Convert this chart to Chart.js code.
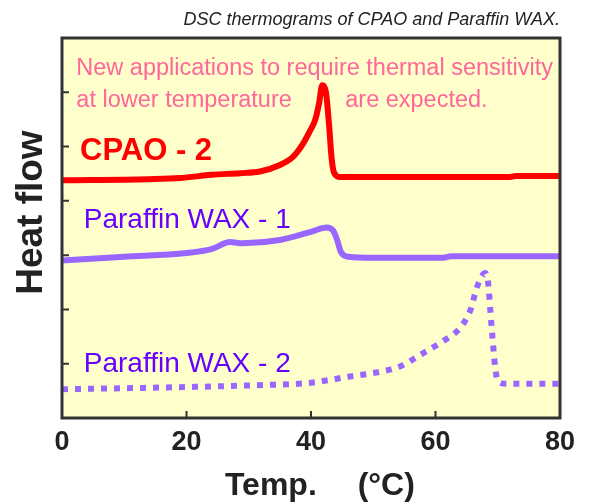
<!DOCTYPE html>
<html>
<head>
<meta charset="utf-8">
<script src="https://cdn.jsdelivr.net/npm/chart.js@4.4.1/dist/chart.umd.min.js"></script>
<style>
html, body { margin: 0; padding: 0; background: #fff; }
#wrap { width: 589px; height: 503px; }
</style>
</head>
<body>
<div id="wrap"><canvas id="dscChart"></canvas></div>
<script>
// temperature (deg C) / heat flow (arbitrary, 0..7)
const cpaoTemp = [0, 14, 19, 24, 28.6, 31.8, 35, 37.1, 38.7, 39.8, 40.7, 41.3, 41.8, 42.4, 42.9, 43.3, 43.7, 44.7, 60, 72, 73, 80];
const cpaoFlow = [4.38, 4.40, 4.42, 4.48, 4.51, 4.54, 4.66, 4.81, 5.05, 5.28, 5.50, 5.80, 6.13, 6.00, 5.40, 4.80, 4.52, 4.44, 4.44, 4.44, 4.46, 4.46];

const wax1Temp = [0, 10, 20, 24, 27, 29, 35, 40, 42.5, 43.5, 44.2, 44.8, 46, 50, 61, 62.5, 80];
const wax1Flow = [2.90, 2.97, 3.04, 3.11, 3.24, 3.22, 3.28, 3.43, 3.51, 3.46, 3.28, 3.06, 2.97, 2.95, 2.95, 2.98, 2.98];

const wax2Temp = [0, 20, 30, 40, 46, 51, 54.3, 57.5, 60.7, 63.9, 65, 65.8, 66.3, 66.9, 68, 68.5, 68.8, 69.1, 69.6, 70.1, 71.4, 80];
const wax2Flow = [0.53, 0.57, 0.60, 0.65, 0.76, 0.85, 0.95, 1.16, 1.38, 1.65, 1.84, 2.05, 2.27, 2.48, 2.67, 2.45, 1.99, 1.56, 0.92, 0.67, 0.63, 0.63];

const xTicks = [0, 20, 40, 60, 80];
const seriesNames = ['CPAO - 2', 'Paraffin WAX - 1', 'Paraffin WAX - 2'];
const noteLines = ['New applications to require thermal sensitivity', 'at lower temperature', 'are expected.'];

function toPoints(xs, ys) {
    return xs.map(function(x, i) { return {x: x, y: ys[i]}; });
}

// text placed in data units
const labelPos = [[2.9, 4.75], [3.5, 3.50], [3.5, 0.85]];
const notePos = [[2.3, 6.32], [2.3, 5.73], [45.5, 5.73]];

const framePlugin = {
    id: 'frame',
    beforeDraw(chart) {
        const {ctx, chartArea: a} = chart;
        ctx.save();
        ctx.fillStyle = '#ffffcc';
        ctx.fillRect(a.left, a.top, a.width, a.height);
        ctx.restore();
    },
    afterDatasetsDraw(chart) {
        const {ctx, chartArea: a, scales} = chart;
        const xs = scales.x, ys = scales.y;
        ctx.save();
        // inward ticks
        ctx.strokeStyle = '#333';
        ctx.lineWidth = 2;
        ctx.beginPath();
        xs.ticks.forEach(function(t) {
            const px = xs.getPixelForValue(t.value);
            ctx.moveTo(px, a.bottom);
            ctx.lineTo(px, a.bottom - 7);
        });
        ys.ticks.forEach(function(t) {
            const py = ys.getPixelForValue(t.value);
            ctx.moveTo(a.left, py);
            ctx.lineTo(a.left + 7, py);
        });
        ctx.stroke();
        // box
        ctx.lineWidth = 3;
        ctx.strokeRect(a.left, a.top, a.width, a.height);

        // note text
        ctx.fillStyle = '#ff6699';
        ctx.font = '23.5px "Liberation Sans", Arial, sans-serif';
        ctx.textBaseline = 'alphabetic';
        ctx.textAlign = 'left';
        noteLines.forEach(function(s, i) {
            ctx.fillText(s, xs.getPixelForValue(notePos[i][0]), ys.getPixelForValue(notePos[i][1]));
        });
        // series names
        const colors = ['#ff0000', '#6600ff', '#6600ff'];
        const fonts = ['bold 31px "Liberation Sans", Arial, sans-serif',
                       '28px "Liberation Sans", Arial, sans-serif',
                       '28px "Liberation Sans", Arial, sans-serif'];
        seriesNames.forEach(function(s, i) {
            ctx.fillStyle = colors[i];
            ctx.font = fonts[i];
            ctx.fillText(s, xs.getPixelForValue(labelPos[i][0]), ys.getPixelForValue(labelPos[i][1]));
        });
        ctx.restore();
    }
};

const ctx = document.getElementById('dscChart').getContext('2d');
const myChart = new Chart(ctx, {
    type: 'line',
    data: {
        datasets: [
            {
                label: seriesNames[0],
                data: toPoints(cpaoTemp, cpaoFlow),
                borderColor: '#ff0000',
                borderWidth: 6,
                pointRadius: 0,
                cubicInterpolationMode: 'monotone',
                borderCapStyle: 'round',
                borderJoinStyle: 'round'
            },
            {
                label: seriesNames[1],
                data: toPoints(wax1Temp, wax1Flow),
                borderColor: '#9966ff',
                borderWidth: 6,
                pointRadius: 0,
                cubicInterpolationMode: 'monotone',
                borderJoinStyle: 'round'
            },
            {
                label: seriesNames[2],
                data: toPoints(wax2Temp, wax2Flow),
                borderColor: '#9966ff',
                borderWidth: 6,
                borderDash: [6, 7],
                borderCapStyle: 'butt',
                pointRadius: 0,
                cubicInterpolationMode: 'monotone'
            }
        ]
    },
    options: {
        responsive: true,
        maintainAspectRatio: false,
        animation: false,
        layout: { padding: { left: 0, right: 29, top: 0, bottom: 0 } },
        plugins: {
            legend: { display: false },
            tooltip: { enabled: false },
            title: {
                display: true,
                text: 'DSC thermograms of CPAO and Paraffin WAX.',
                align: 'end',
                color: '#222',
                font: { family: '"Liberation Sans", Arial, sans-serif', size: 18, style: 'italic', weight: 'normal', lineHeight: 1.2 },
                padding: { top: 9, bottom: 7.4 }
            }
        },
        scales: {
            x: {
                type: 'linear',
                min: 0,
                max: 80,
                afterFit: function(s) { s.height = 85; },
                afterBuildTicks: function(s) { s.ticks = xTicks.map(function(v) { return {value: v}; }); },
                grid: { display: false, drawTicks: false },
                border: { display: false },
                ticks: {
                    padding: 8,
                    color: '#222',
                    font: { family: '"Liberation Sans", Arial, sans-serif', size: 27, weight: 'bold' }
                },
                title: {
                    display: true,
                    text: '  Temp. \u3000(°C)',
                    color: '#222',
                    font: { family: '"Liberation Sans", Arial, sans-serif', size: 32, weight: 'bold', lineHeight: 1.0 },
                    padding: { top: 0, bottom: 1 }
                }
            },
            y: {
                min: 0,
                max: 7,
                afterFit: function(s) { s.width = 62; },
                grid: { display: false, drawTicks: false },
                border: { display: false },
                ticks: { display: false, stepSize: 1 },
                title: {
                    display: true,
                    text: '   Heat flow',
                    color: '#222',
                    font: { family: '"Liberation Sans", Arial, sans-serif', size: 37, weight: 'bold' },
                    padding: { top: 9.8, bottom: 0 }
                }
            }
        }
    },
    plugins: [framePlugin]
});
</script>
</body>
</html>
